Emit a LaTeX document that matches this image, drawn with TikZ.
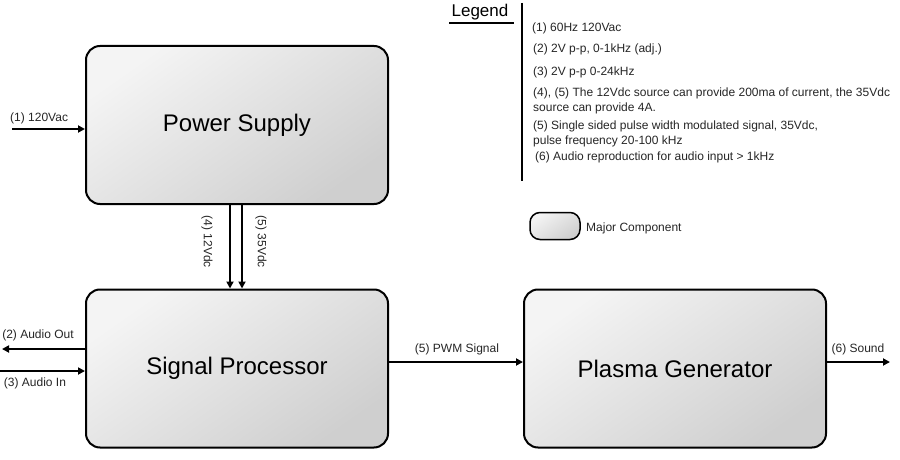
\documentclass[tikz,border=0pt]{standalone}
\usepackage{fontspec}
\setmainfont{Liberation Sans}
\usetikzlibrary{arrows.meta,shadings}
\definecolor{boxlight}{HTML}{F4F4F4}
\definecolor{boxdark}{HTML}{CFCFCF}
\begin{document}
\begin{tikzpicture}[x=1pt,y=-1pt,
  block/.style={draw=black, line width=2pt, rounded corners=14pt, top color=boxlight, bottom color=boxdark, shading angle=35, minimum width=302pt, minimum height=158pt, font=\fontsize{24}{28}\selectfont, inner sep=0pt},
  conn/.style={line width=1.8pt, -{Triangle[length=7pt,width=7pt]}},
  lbl/.style={font=\fontsize{12}{14}\selectfont, inner sep=0pt, text=black!85},
  leg/.style={font=\fontsize{12}{15}\selectfont, inner sep=0pt, anchor=west, align=left, text=black!85}]
\useasboundingbox (0,0) rectangle (900,460);
\fill[white] (0,0) rectangle (900,460);
% blocks
\node[block] (ps) at (237,125) {Power Supply};
\node[block] (sp) at (237,368.5) {Signal Processor};
\node[block] (pg) at (675,368.5) {Plasma Generator};
% coordinates for free ends
\coordinate (in1) at (12,129);
\coordinate (aout) at (2,349);
\coordinate (ain) at (0,371);
\coordinate (snd) at (890,362);
% connectors
\draw[conn] (in1) -- (in1 -| ps.west);
\node[lbl, anchor=south west] (l1) at (10,124) {(1) 120Vac};
\draw[conn] (ps.south -| 230,0) -- (sp.north -| 230,0);
\draw[conn] (ps.south -| 242,0) -- (sp.north -| 242,0);
\node[lbl, rotate=-90] (l4) at (207,242) {(4) 12Vdc};
\node[lbl, rotate=-90] (l5) at (261,242) {(5) 35Vdc};
\draw[conn] (aout -| sp.west) -- (aout);
\node[lbl, anchor=south] (l2) at (38,341) {(2) Audio Out};
\draw[conn] (ain) -- (ain -| sp.west);
\node[lbl, anchor=north] (l3) at (35,378) {(3) Audio In};
\draw[conn] (sp.east |- 0,362) -- (pg.west |- 0,362);
\node[lbl, anchor=south] (lp) at (457,355) {(5) PWM Signal};
\draw[conn] (pg.east |- snd) -- (snd);
\node[lbl, anchor=south] (ls) at (858,355) {(6) Sound};
% legend
\node[font=\fontsize{17}{20}\selectfont, inner sep=0pt] (lg) at (480,12) {Legend};
\coordinate (ulA) at (449,23);
\coordinate (ulB) at (514,23);
\draw[line width=1.2pt] (ulA) -- (ulB);
\coordinate (vA) at (522,3);
\coordinate (vB) at (522,181);
\draw[line width=1.6pt] (vA) -- (vB);
\node[leg] (t1) at (532,28) {(1) 60Hz 120Vac};
\node[leg] (t2) at (533,49) {(2) 2V p-p, 0-1kHz (adj.)};
\node[leg] (t3) at (533,72) {(3) 2V p-p 0-24kHz};
\node[leg] (t4) at (533,101) {(4), (5) The 12Vdc source can provide 200ma of current, the 35Vdc\\source can provide 4A.};
\node[leg] (t5) at (533,134) {(5) Single sided pulse width modulated signal, 35Vdc,\\pulse frequency 20-100 kHz};
\node[leg] (t6) at (535,157) {(6) Audio reproduction for audio input > 1kHz};
\node[draw=black, line width=1.5pt, rounded corners=10pt, top color=boxlight, bottom color=boxdark, shading angle=35, minimum width=50pt, minimum height=27pt, inner sep=0pt] (mc) at (555,226) {};
\node[lbl, anchor=west, font=\fontsize{12}{14}\selectfont] (mcl) at (586,228) {Major Component};
\end{tikzpicture}
\end{document}
